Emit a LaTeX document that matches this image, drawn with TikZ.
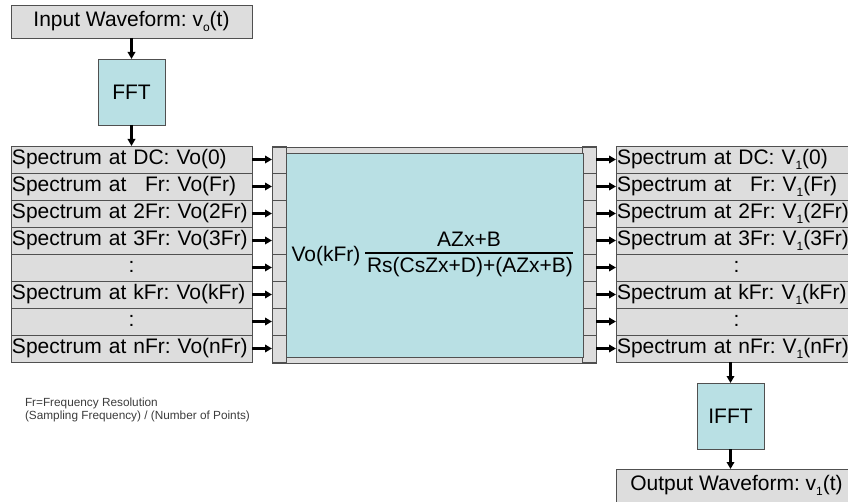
\documentclass[tikz,border=0pt]{standalone}
\usepackage{fontspec}
\setmainfont{Liberation Sans}
\usetikzlibrary{arrows.meta}
\definecolor{boxgray}{RGB}{221,221,221}
\definecolor{boxcyan}{RGB}{185,224,228}
\definecolor{edgegray}{RGB}{80,80,80}
\definecolor{notegray}{RGB}{60,60,60}
\newcommand\lowidx[1]{\raisebox{-0.45ex}{\fontsize{12}{12}\selectfont #1}}
\frenchspacing
\begin{document}
\begin{tikzpicture}[x=1pt,y=-1pt,
  every node/.style={font=\fontsize{21}{23}\selectfont, inner sep=0pt, outer sep=0pt},
  graybox/.style={draw=edgegray, fill=boxgray, line width=0.8pt},
  cyanbox/.style={draw=edgegray, fill=boxcyan, line width=0.8pt},
  rowbox/.style={graybox, anchor=north west, minimum width=241pt, minimum height=27pt,
    text width=239pt, inner xsep=1pt, text height=15pt, text depth=4.5pt, align=left},
  dotbox/.style={rowbox, align=center},
  portbox/.style={graybox, anchor=north west, minimum width=14pt, minimum height=27pt},
  wavebox/.style={graybox, anchor=north west, minimum width=241pt, minimum height=33pt},
  fftbox/.style={cyanbox, anchor=north west, minimum width=67pt, minimum height=66pt},
  flow/.style={line width=2.2pt, -{Triangle[length=7pt,width=7.5pt]}},
  note/.style={font=\fontsize{11.8}{12.8}\selectfont, text=notegray, align=left, anchor=north west}
]
\useasboundingbox (0,0) rectangle (848,502);
\clip (0,0) rectangle (848,502);

% input / FFT
\node[wavebox] (in) at (11,5) {Input Waveform: v\lowidx{o}(t)};
\node[fftbox] (fft) at (98,59) {FFT};

% left column
\node[rowbox] (L1) at (11,146) {Spectrum at DC: Vo(0)};
\node[rowbox] (L2) at (11,173) {Spectrum at \phantom{2}Fr: Vo(Fr)};
\node[rowbox] (L3) at (11,200) {Spectrum at 2Fr: Vo(2Fr)};
\node[rowbox] (L4) at (11,227) {Spectrum at 3Fr: Vo(3Fr)};
\node[dotbox] (L5) at (11,254) {:};
\node[rowbox] (L6) at (11,281) {Spectrum at kFr: Vo(kFr)};
\node[dotbox] (L7) at (11,308) {:};
\node[rowbox] (L8) at (11,335) {Spectrum at nFr: Vo(nFr)};

% middle block
\fill[boxgray] (272,147) rectangle (596,363);
\foreach \i in {1,...,8}{
  \node[portbox] (PL\i) at (272,{146+27*(\i-1)}) {};
  \node[portbox] (PR\i) at (582,{146+27*(\i-1)}) {};
}
\node[cyanbox, anchor=north west, minimum width=297pt, minimum height=204pt] (core) at (286,153) {};
\draw[edgegray, line width=0.8pt] (272,147) rectangle (596,363);

\node[anchor=base] (vo) at (326,262) {Vo(kFr)};
\node[anchor=base] (num) at (469,247) {AZx+B};
\node[anchor=base] (den) at (470,273) {Rs(CsZx+D)+(AZx+B)};
\coordinate (barL) at (365,253);
\coordinate (barR) at (573,253);
\draw[line width=1.2pt] (barL) -- (barR);

% right column
\node[rowbox] (R1) at (616,146) {Spectrum at DC: V\lowidx{1}(0)};
\node[rowbox] (R2) at (616,173) {Spectrum at \phantom{2}Fr: V\lowidx{1}(Fr)};
\node[rowbox] (R3) at (616,200) {Spectrum at 2Fr: V\lowidx{1}(2Fr)};
\node[rowbox] (R4) at (616,227) {Spectrum at 3Fr: V\lowidx{1}(3Fr)};
\node[dotbox] (R5) at (616,254) {:};
\node[rowbox] (R6) at (616,281) {Spectrum at kFr: V\lowidx{1}(kFr)};
\node[dotbox] (R7) at (616,308) {:};
\node[rowbox] (R8) at (616,335) {Spectrum at nFr: V\lowidx{1}(nFr)};

% IFFT / output
\node[fftbox] (ifft) at (697,383) {IFFT};
\node[wavebox] (out) at (616,469) {Output Waveform: v\lowidx{1}(t)};

% connectors
\draw[flow] (in.south -| fft.north) -- (fft.north);
\draw[flow] (fft.south) -- (fft.south |- L1.north);
\foreach \i in {1,...,8}{
  \draw[flow] (L\i.east) -- (PL\i.west);
  \draw[flow] (PR\i.east) -- (R\i.west);
}
\draw[flow] (R8.south -| ifft.north) -- (ifft.north);
\draw[flow] (ifft.south) -- (ifft.south |- out.north);

% note
\node[note] (frnote) at (25,398) {Fr=Frequency Resolution\\(Sampling Frequency) / (Number of Points)};
\end{tikzpicture}
\end{document}
